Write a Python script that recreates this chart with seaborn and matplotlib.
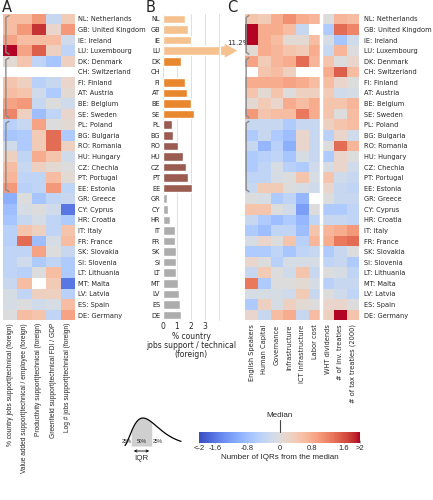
import numpy as np
import pandas as pd
import matplotlib
matplotlib.use("Agg")
import matplotlib.pyplot as plt
import seaborn as sns

# ---------------- data ----------------
codes = ["NL","GB","IE","LU","DK","CH","FI","AT","BE","SE","PL","BG","RO","HU","CZ","PT","EE",
         "GR","CY","HR","IT","FR","SK","SI","LT","MT","LV","ES","DE"]
names = ["Netherlands","United Kingdom","Ireland","Luxembourg","Denmark","Switzerland","Finland",
         "Austria","Belgium","Sweden","Poland","Bulgaria","Romania","Hungary","Chechia","Portugal",
         "Estonia","Greece","Cyprus","Croatia","Italy","France","Slovakia","Slovenia","Lithuania",
         "Malta","Latvia","Spain","Germany"]
groups = ["g1"]*4 + ["g2"]*6 + ["g3"]*7 + ["g4"]*12
nan = np.nan

# panel B: % country jobs support / technical (foreign)
jobs_pct = [1.6, 1.78, 2.0, 11.2, 1.3, nan, 1.6, 1.68, 1.97, 2.2, 0.66, 0.7, 1.1, 1.4, 1.63, 1.8, 2.1,
            0.27, 0.39, 0.51, 0.83, 0.88, 0.95, 0.93, 0.95, 1.04, 1.14, 1.24, 1.27]

# panel A (IQRs from the median)
a_labels = ["% country jobs support|technical (foreign)",
            "Value added support|technical / employee (foreign)",
            "Productivity support|technical (foreign)",
            "Greenfield support|technical FDI / GDP",
            "Log # jobs support|technical (foreign)"]
a_jobs_share = [.6, .6, .9, 2.0, .1, nan, .5, .6, .9, 1.2, -.5, -.7, -.2, .3, .6, .7, 1.0,
                -1.0, -.8, -.7, -.5, -.5, -.4, -.4, -.4, -.3, -.1, -.1, 0]
a_value_added = [.6, 1.0, .6, .9, .5, nan, .3, .5, 1.0, .3, -.3, -.6, -.6, -.4, -.3, -.4, -.5,
                 0, -.1, -.3, .5, 1.4, -.4, -.2, -.5, .6, -.4, 0, .6]
a_productivity = [1.0, 1.8, .6, 1.5, -.4, nan, -.5, -.2, -.3, -.8, .9, .4, .4, .8, .3, -.4, -.4,
                  -.7, 0, -.1, .3, -.8, .9, -.6, 0, nan, .3, -.2, .5]
a_greenfield = [-.3, .2, .6, .3, -.7, nan, -.3, -.6, 0, -.4, 0, 1.4, 1.4, .5, .1, .6, 1.0,
                -.4, -.2, -.4, -.4, -.1, 0, -.4, .6, .4, .3, -.1, -.4]
a_log_jobs = [.4, 1.0, -.2, -.4, .3, nan, .2, .1, -.2, .2, .1, -.6, .3, -.2, 0, .1, -.4,
              -.3, -1.6, -.6, .5, .6, -.3, -.6, -.6, -1.6, -.5, .6, .9]

# panel C (IQRs from the median)
c_labels = ["English Speakers", "Human Capital", "Governance", "Infrastructure",
            "ICT Infrastructure", "Labor cost", "WHT dividends", "# of inv. treaties",
            "# of tax treaties (2000)"]
c_english = [.5, 2.0, 2.0, .1, .9, nan, .8, .5, .1, 1.0, -.3, -.6, -.3, -.6, -.6, -.4, -.3,
             0, .5, -.3, -.6, -.1, -.6, .2, -.3, 1.3, -.1, -.6, .2]
c_human = [.4, .8, .8, .8, .4, .5, .8, .1, .4, .5, -.3, -.3, -.9, -.5, -.4, -.4, .4,
           -.1, .5, -.6, -.8, .2, -.6, 0, .4, -.6, -.1, .3, -.3]
c_governance = [.8, .8, .6, .7, .7, .6, .8, .5, .2, .6, -.3, -.6, -.5, -.4, -.1, -.1, .4,
                -.6, 0, -.8, -.4, 0, -.4, -.5, 0, 0, -.1, -.1, .6]
c_infra = [1.1, .6, .1, .5, .8, .3, .9, 0, .8, .6, -.6, -.8, -1.0, -.7, -.5, 0, 0,
           -.4, -.2, -.6, -.4, .5, -.7, -.1, -.2, 0, -.2, .3, .8]
c_ict = [.8, -.3, .1, .4, 1.4, nan, .8, .3, .6, 1.3, -.3, .2, .2, -.1, -.6, .5, -.1,
         -.9, -1.2, -.9, -.8, -.5, -.4, -.1, .5, .1, .4, .1, -.3]
c_labor = [.7, nan, .6, .8, .7, nan, .6, .3, .8, .8, -.3, -.3, -.3, -.3, -.2, -.1, -.2,
           nan, 0, -.4, .5, .7, -.3, -.1, -.3, -.1, -.3, 0, .6]
c_wht = [0, -.6, -.1, -.3, .5, .8, .6, .4, .5, .5, .3, -.5, 0, -.6, -.1, .5, .2,
         0, -.6, -.3, .7, .8, -.6, -.4, 0, -.5, 0, .2, .3]
c_inv_treaties = [.7, 1.4, -.7, .7, 0, 1.5, .2, -.2, .5, 0, .5, .2, 1.4, .2, .2, -.2, -.3,
                  -.3, -.6, -.3, .8, 1.3, -.3, -.3, -.1, -.3, -.2, .2, 2.0]
c_tax_treaties = [.6, 1.2, -.2, 0, .2, .6, 0, -.1, .7, .6, .6, -.2, .7, 0, -.2, -.3, -.4,
                  -.3, -.4, -.4, 1.0, 1.4, 0, -.6, -.4, -.3, -.4, 0, .5]

cbar_ticks = [-2, -1.6, -0.8, 0, 0.8, 1.6, 2]
cbar_ticklabels = ["<-2", "-1.6", "-0.8", "0", "0.8", "1.6", ">2"]
group_colors = {"g1": "#f5c18e", "g2": "#e9872e", "g3": "#9a5b51", "g4": "#adadad"}

# ---------------- figure ----------------
sns.set_theme(style="white")
plt.rcParams["font.family"] = ["DejaVu Sans"]
W, H = 433, 500
fig = plt.figure(figsize=(W / 100, H / 100), dpi=100)

def fx(px):
    return px / W

top_px, bot_px = 13.7, 320.3
ax_h = (bot_px - top_px) / H
ax_b = 1 - bot_px / H
row_labels = [f"{c}: {n}" for c, n in zip(codes, names)]
FS = 4.8

def bracket(ax, x, r0, r1, tick):
    ax.plot([x + tick, x, x, x + tick], [r0 + 0.15, r0 + 0.35, r1 + 0.65, r1 + 0.85],
            color="#8a8a8a", lw=1.0, solid_capstyle="butt", clip_on=False)

group_rows = [(0, 3), (4, 9), (10, 16)]

# Panel A
dfA = pd.DataFrame({a_labels[0]: a_jobs_share, a_labels[1]: a_value_added,
                    a_labels[2]: a_productivity, a_labels[3]: a_greenfield,
                    a_labels[4]: a_log_jobs}, index=row_labels)
axA = fig.add_axes([fx(3), ax_b, fx(72), ax_h])
sns.heatmap(dfA, ax=axA, cmap="coolwarm", vmin=-2, vmax=2, cbar=False,
            xticklabels=a_labels, yticklabels=row_labels)
axA.yaxis.tick_right()
axA.tick_params(axis="both", length=0, labelsize=FS, pad=2)
axA.set_yticklabels(row_labels, rotation=0, fontsize=FS)
axA.set_xticklabels(a_labels, rotation=90, fontsize=FS, family="Liberation Sans")
for r0, r1 in group_rows:
    bracket(axA, 0.2, r0, r1, 0.25)

# Panel B
dfB = pd.DataFrame({"code": codes, "pct": jobs_pct, "group": groups})
axB = fig.add_axes([fx(163), ax_b, fx(56), ax_h])
sns.barplot(data=dfB, x="pct", y="code", hue="group", palette=group_colors, order=codes,
            hue_order=["g1", "g2", "g3", "g4"], dodge=False, legend=False, width=0.8,
            saturation=1, ax=axB)
axB.set_xlim(0, 4)
axB.set_xticks([0, 1, 2, 3])
axB.grid(axis="x", color="#d9d9d9", lw=0.6)
axB.grid(axis="y", visible=False)
axB.set_axisbelow(True)
for s in ["top", "left", "bottom"]:
    axB.spines[s].set_visible(False)
axB.spines["right"].set_color("#d9d9d9")
axB.spines["right"].set_linewidth(0.6)
axB.tick_params(axis="y", length=0, labelsize=FS, pad=2)
axB.tick_params(axis="x", length=0, labelsize=5.5, pad=1)
axB.set_ylabel("")
axB.set_xlabel("% country\njobs support / technical\n(foreign)", fontsize=5.5, labelpad=1,
               linespacing=1.0)
lu_idx = codes.index("LU")
lu_val = jobs_pct[lu_idx]
axB.annotate("", xy=(5.5, lu_idx), xytext=(3.95, lu_idx), xycoords="data",
             arrowprops=dict(arrowstyle="simple,head_length=0.9,head_width=1.0,tail_width=0.6",
                             color=group_colors["g1"], mutation_scale=10, lw=0),
             annotation_clip=False)
axB.text(5.35, lu_idx - 0.45, f"{lu_val:.1f}%", fontsize=5.0, ha="center", va="bottom",
         clip_on=False)

# Panel C
dfC = pd.DataFrame({c_labels[0]: c_english, c_labels[1]: c_human, c_labels[2]: c_governance,
                    c_labels[3]: c_infra, c_labels[4]: c_ict, c_labels[5]: c_labor,
                    c_labels[6]: c_wht, c_labels[7]: c_inv_treaties,
                    c_labels[8]: c_tax_treaties}, index=row_labels)
axC = fig.add_axes([fx(245.4), ax_b, fx(114), ax_h])
sns.heatmap(dfC, ax=axC, cmap="coolwarm", vmin=-2, vmax=2, cbar=False,
            xticklabels=c_labels, yticklabels=row_labels)
axC.yaxis.tick_right()
axC.tick_params(axis="both", length=0, labelsize=FS, pad=3)
axC.set_yticklabels(row_labels, rotation=0, fontsize=FS)
axC.set_xticklabels(c_labels, rotation=90, fontsize=FS)
axC.axvline(6, color="white", lw=2.5)
for r0, r1 in group_rows:
    bracket(axC, 0.06, r0, r1, 0.25)

# panel letters
fig.text(fx(2), 1 - 0.5 / H, "A", fontsize=10.5, va="top", ha="left")
fig.text(fx(146), 1 - 0.5 / H, "B", fontsize=10.5, va="top", ha="left")
fig.text(fx(227), 1 - 0.5 / H, "C", fontsize=10.5, va="top", ha="left")

# Colorbar
cax = fig.add_axes([fx(199), 1 - 443 / H, fx(161), 11 / H])
cb = fig.colorbar(axC.collections[0], cax=cax, orientation="horizontal")
cb.outline.set_visible(False)
cb.set_ticks(cbar_ticks)
cb.set_ticklabels(cbar_ticklabels)
cax.tick_params(axis="x", direction="in", length=2.5, color="#999999", width=0.6,
                labelsize=5.5, pad=1.5)
for lab in cax.get_xticklabels():
    lab.set_family("Liberation Sans")
cax.set_xlabel("Number of IQRs from the median", fontsize=5.8, labelpad=1.5,
               family="Liberation Sans")
cax.plot([0, 0], [1.0, 2.1], color="#444444", lw=0.8, clip_on=False)
cax.text(0, 2.15, "Median", fontsize=5.8, ha="center", va="bottom", family="Liberation Sans")

# IQR schematic (legend glyph)
axI = fig.add_axes([fx(118), 1 - 472 / H, fx(70), 62 / H])
axI.set_xlim(118, 188)
axI.set_ylim(472, 410)
axI.axis("off")
xs = np.linspace(125, 181, 200)
u = (xs - 124) / 19.0
g = (u * np.exp(1 - u)) ** 2
base, peak = 446, 418
ys = base - (base - peak) * g
m = (xs >= 131) & (xs <= 152)
axI.fill_between(xs[m], ys[m], base, color="#cfcfcf", lw=0)
axI.plot(xs, ys, color="black", lw=0.9)
for tx, tl in [(127, "25%"), (141.5, "50%"), (157.5, "25%")]:
    axI.text(tx, 441, tl, fontsize=3.6, ha="center", va="center", family="Liberation Sans")
axI.annotate("", xy=(131, 451), xytext=(152, 451),
             arrowprops=dict(arrowstyle="<->", lw=0.6, color="black", mutation_scale=4))
axI.text(141.5, 455, "IQR", fontsize=5.8, ha="center", va="top", family="Liberation Sans")

fig.savefig("out.png", dpi=100)
